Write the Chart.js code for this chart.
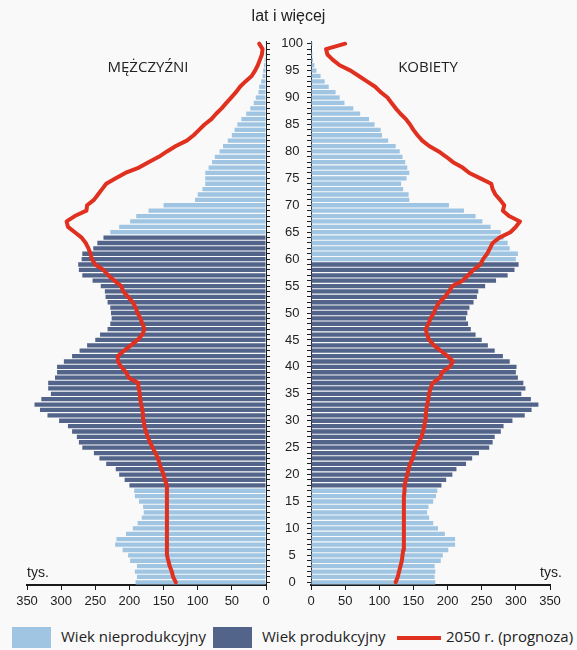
<!DOCTYPE html>
<html lang="pl">
<head>
<meta charset="utf-8">
<title>Piramida wieku</title>
<script src="https://cdn.jsdelivr.net/npm/chart.js@4/dist/chart.umd.min.js"></script>
<style>
  html, body { margin: 0; padding: 0; background: #f9f9f9; }
  #wrap { position: relative; width: 577px; height: 650px; overflow: hidden; color: #222; font-family: 'Liberation Sans', Arial, sans-serif; }
  #men { position: absolute; left: 0; top: 0; }
  #women { position: absolute; left: 270px; top: 0; }
  .txt { position: absolute; white-space: nowrap; line-height: 1; }
  .sans { font-family: 'Open Sans', 'Noto Sans', sans-serif; }
  .sq { position: absolute; top: 627px; width: 39px; height: 21px; }
</style>
</head>
<body>
<div id="wrap">
  <canvas id="men" width="288" height="620"></canvas>
  <canvas id="women" width="307" height="620"></canvas>

  <div class="txt" style="left:0;width:577px;text-align:center;top:8px;font-size:16px;">lat i więcej</div>
  <div class="txt sans" style="left:48px;width:200px;text-align:center;top:59px;font-size:15px;">MĘŻCZYŹNI</div>
  <div class="txt sans" style="left:328px;width:200px;text-align:center;top:59px;font-size:15px;">KOBIETY</div>
  <div class="txt" style="left:27px;top:565px;font-size:14px;">tys.</div>
  <div class="txt" style="left:540px;top:565px;font-size:14px;">tys.</div>

  <div class="sq" style="left:12px;background:#9fc5e3;"></div>
  <div class="txt sans" style="left:61px;top:629px;font-size:15px;">Wiek nieprodukcyjny</div>
  <div class="sq" style="left:213px;background:#52648a;"></div>
  <div class="txt sans" style="left:262px;top:629px;font-size:15px;">Wiek produkcyjny</div>
  <div style="position:absolute;left:397px;top:636px;width:44px;height:4px;background:#e0301f;"></div>
  <div class="txt sans" style="left:446px;top:629px;font-size:15px;">2050 r. (prognoza)</div>
</div>
<script>
var LIGHT = '#9fc5e3';
var DARK = '#52648a';
var RED = '#e0301f';
var AXIS = '#1a1a1a';
var FONT = "'Liberation Sans', Arial, sans-serif";

var AGES = [];
for (var a = 0; a <= 100; a++) AGES.push(a);

// tys. osob, wiek 0..100
var MEN_NOW = [
  191, 189, 192, 189, 199, 202, 210, 221, 219, 205,
  195, 188, 182, 179, 180, 186, 192, 193, 200, 207,
  215, 220, 234, 244, 252, 269, 274, 277, 284, 290,
  303, 320, 331, 339, 329, 315, 319, 319, 309, 306,
  306, 296, 284, 273, 262, 250, 243, 232, 228, 226,
  227, 228, 232, 235, 236, 242, 254, 269, 274, 275,
  270, 269, 253, 247, 238, 228, 215, 199, 190, 172,
  150, 104, 100, 93, 89, 89, 89, 84, 79, 75,
  68, 63, 56, 50, 46, 42, 36, 29, 23, 18,
  15, 11, 10, 7, 5, 4, 3, 2, 1.5, 1,
  0.5
];
var WOMEN_NOW = [
  182, 181, 182, 181, 190, 193, 201, 211, 211, 196,
  186, 179, 173, 170, 172, 179, 183, 185, 191, 198,
  207, 213, 227, 236, 246, 261, 266, 269, 278, 282,
  295, 313, 323, 333, 322, 308, 314, 311, 303, 300,
  301, 291, 281, 269, 259, 250, 241, 234, 230, 227,
  229, 232, 238, 243, 245, 255, 271, 288, 298, 304,
  300, 303, 291, 288, 282, 278, 263, 251, 241, 224,
  202, 144, 143, 135, 132, 140, 144, 141, 138, 134,
  130, 124, 113, 104, 102, 93, 85, 72, 62, 49,
  42, 36, 26, 20, 14, 8, 5, 3, 2, 1,
  2
];
var MEN_2050 = [
  132, 136, 138, 141, 143, 145, 145, 145, 145, 145,
  145, 145, 145, 145, 145, 145, 145, 145, 146, 148,
  150, 153, 156, 158, 162, 166, 170, 173, 176, 178,
  179, 180, 181, 183, 184, 185, 186, 187, 201, 205,
  212, 217, 217, 208, 198, 188, 181, 178, 181, 184,
  188, 191, 195, 202, 209, 212, 222, 231, 238, 250,
  255, 257, 260, 264, 270, 280, 290, 292, 280, 263,
  262, 252, 246, 240, 234, 220, 206, 186, 172, 157,
  145, 132, 116, 106, 98, 90, 80, 73, 65, 58,
  51, 44, 38, 30, 21, 16, 12, 9, 6, 5,
  10
];
var WOMEN_2050 = [
  124, 127, 129, 131, 133, 134, 135, 136, 136, 136,
  136, 136, 136, 136, 136, 136, 136, 137, 137, 139,
  141, 143, 145, 149, 151, 154, 158, 162, 164, 166,
  167, 168, 169, 170, 172, 173, 175, 178, 189, 192,
  203, 208, 200, 190, 180, 173, 170, 168, 172, 175,
  180, 183, 188, 196, 202, 207, 222, 230, 238, 248,
  252, 258, 262, 266, 276, 292, 300, 306, 290, 281,
  283, 277, 270, 266, 264, 248, 232, 222, 208, 198,
  187, 173, 163, 156, 150, 145, 139, 131, 124, 118,
  112, 102, 94, 82, 70, 58, 42, 32, 24, 22,
  50
];
var MEN_WORK = [18, 64];
var WOMEN_WORK = [18, 59];
var X_MAX = 350;
var X_STEP = 50;

Chart.defaults.font.family = FONT;
Chart.defaults.color = '#222';

function barColors(range) {
  return AGES.map(function (age) {
    return age >= range[0] && age <= range[1] ? DARK : LIGHT;
  });
}

function datasets(now, future, range) {
  return [
    {
      type: 'line', indexAxis: 'y', data: future, order: 0,
      borderColor: RED, borderWidth: 4, pointRadius: 0, tension: 0,
      borderJoinStyle: 'round', borderCapStyle: 'round', fill: false, clip: false,
    },
    {
      type: 'bar', data: now, order: 1, backgroundColor: barColors(range),
      borderWidth: 0, barPercentage: 0.8, categoryPercentage: 1,
    },
  ];
}

function xScale(reverse) {
  return {
    type: 'linear', position: 'bottom', reverse: reverse, min: 0, max: X_MAX,
    afterFit: function (s) { s.height = 30; },
    grid: { display: true, drawOnChartArea: false, tickLength: 5, color: AXIS },
    border: { display: true, color: AXIS, width: 2 },
    ticks: { stepSize: X_STEP, padding: 4, color: '#222', font: { size: 13 } },
  };
}

function yScale(pos, width, showLabels) {
  return {
    type: 'category', position: pos, reverse: true, offset: true,
    afterFit: function (s) { s.width = width; },
    grid: { display: true, drawOnChartArea: false, offset: false, tickLength: 4, color: AXIS },
    border: { display: true, color: AXIS, width: 1 },
    ticks: {
      display: showLabels, autoSkip: false, crossAlign: 'center', padding: 4,
      color: '#222', font: { size: 13 },
      callback: function (v) {
        var age = AGES[v];
        return age % 5 === 0 ? String(age) : '';
      },
    },
  };
}

function baseOpts(padding, x, y) {
  return {
    indexAxis: 'y',
    responsive: false,
    animation: false,
    events: [],
    layout: { padding: padding },
    plugins: { legend: { display: false }, tooltip: { enabled: false } },
    scales: { x: x, y: y },
  };
}

new Chart(document.getElementById('men'), {
  type: 'bar',
  data: { labels: AGES, datasets: datasets(MEN_NOW, MEN_2050, MEN_WORK) },
  options: baseOpts({ left: 27, right: 0, top: 41, bottom: 5 }, xScale(true), yScale('right', 22, false)),
});

new Chart(document.getElementById('women'), {
  type: 'bar',
  data: { labels: AGES, datasets: datasets(WOMEN_NOW, WOMEN_2050, WOMEN_WORK) },
  options: baseOpts({ left: 0, right: 27, top: 41, bottom: 5 }, xScale(false), yScale('left', 41, true)),
});
</script>
</body>
</html>
